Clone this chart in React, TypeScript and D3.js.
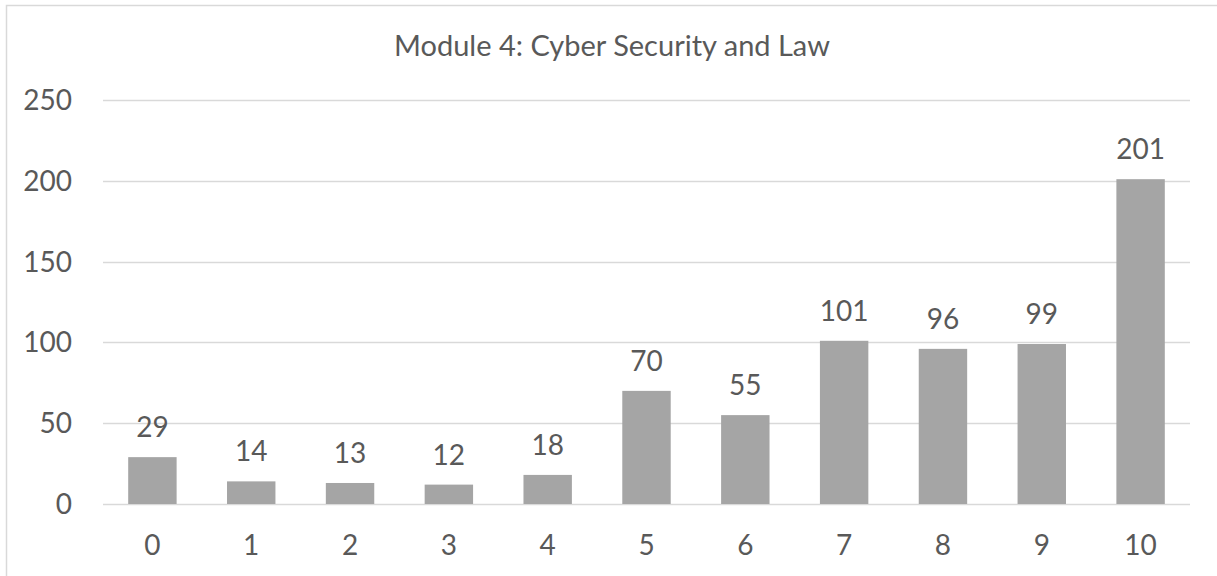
import React from "react";
import * as d3 from "d3";

const categories = ["0", "1", "2", "3", "4", "5", "6", "7", "8", "9", "10"];
const values = [29, 14, 13, 12, 18, 70, 55, 101, 96, 99, 201];
const yTicks = [0, 50, 100, 150, 200, 250];
const title = "Module 4: Cyber Security and Law";

const W = 1217;
const H = 576;
const left = 103;
const right = 1190;
const top = 100;
const bottom = 504;
const FONT = "Lato, 'Open Sans', sans-serif";
const TEXT = "#595959";

export default function App() {
  const x = d3.scaleBand<string>().domain(categories).range([left, right]).paddingInner(0.51).paddingOuter(0.255);
  const y = d3.scaleLinear().domain([0, 250]).range([bottom, top]);
  return (
    <svg width={W} height={H} style={{ position: "absolute", left: 0, top: 0, background: "#fff" }}>
      <rect x={6.5} y={5.5} width={W + 20} height={H + 20} fill="#fff" stroke="#D9D9D9" strokeWidth={1.5} />
      <text x={612} y={56} textAnchor="middle" fontFamily={FONT} fontSize={29} fill={TEXT}>{title}</text>
      {yTicks.map((t) => (
        <g key={t}>
          <line x1={left} x2={right} y1={Math.round(y(t)) + 0.5} y2={Math.round(y(t)) + 0.5} stroke="#D9D9D9" strokeWidth={1.5} />
          <text x={72} y={y(t)} dy="0.36em" textAnchor="end" fontFamily={FONT} fontSize={28} fill={TEXT}>{t}</text>
        </g>
      ))}
      {categories.map((c, i) => (
        <g key={c}>
          <rect x={x(c)} y={y(values[i])} width={x.bandwidth()} height={bottom - y(values[i])} fill="#A5A5A5" />
          <text x={(x(c) as number) + x.bandwidth() / 2} y={y(values[i]) - 20} textAnchor="middle" fontFamily={FONT} fontSize={28} fill={TEXT}>{values[i]}</text>
          <text x={(x(c) as number) + x.bandwidth() / 2} y={555} textAnchor="middle" fontFamily={FONT} fontSize={28} fill={TEXT}>{c}</text>
        </g>
      ))}
    </svg>
  );
}
